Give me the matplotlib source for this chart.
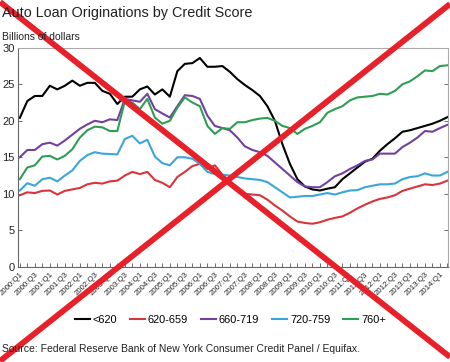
import matplotlib
matplotlib.use("Agg")
import matplotlib.pyplot as plt
from matplotlib.lines import Line2D

plt.rcParams['font.family'] = ['Liberation Sans', 'DejaVu Sans']

quarters = [f"{y}:Q{q}" for y in range(2000, 2015) for q in range(1, 5)][:58]

sub620 = [20.4, 22.7, 23.4, 23.4, 24.8, 24.3, 24.8, 25.5, 24.8, 25.2,
          25.2, 24.1, 23.7, 22.3, 23.3, 23.3, 24.3, 24.7, 23.6, 24.3,
          23.3, 26.8, 27.8, 27.9, 28.6, 27.4, 27.4, 27.5, 26.7, 25.7,
          24.9, 24.2, 23.4, 22.0, 20.0, 16.8, 14.1, 12.0, 11.0, 10.6,
          10.45, 10.7, 10.9, 12.0, 12.8, 13.6, 14.4, 14.8, 15.9, 16.8,
          17.6, 18.5, 18.7, 19.0, 19.3, 19.6, 20.0, 20.5]
s620_659 = [9.8, 10.2, 10.1, 10.4, 10.45, 9.9, 10.4, 10.6, 10.8, 11.3,
            11.5, 11.4, 11.7, 11.8, 12.5, 13.0, 12.7, 13.0, 11.9, 11.5,
            10.9, 12.3, 13.0, 13.8, 14.1, 13.4, 13.9, 12.6, 11.4, 10.5,
            10.0, 9.9, 9.8, 9.2, 8.4, 7.7, 6.9, 6.2, 6.0, 5.9,
            6.1, 6.45, 6.7, 6.9, 7.4, 8.0, 8.5, 8.95, 9.3, 9.5,
            9.8, 10.4, 10.7, 11.0, 11.3, 11.2, 11.4, 11.8]
s660_719 = [15.0, 16.0, 16.0, 16.8, 17.0, 16.6, 17.3, 18.1, 18.9, 19.5,
            20.0, 19.8, 20.2, 20.1, 23.0, 22.8, 22.6, 23.7, 21.6, 21.0,
            20.45, 22.0, 23.5, 23.4, 23.0, 20.7, 19.3, 19.0, 18.7, 17.7,
            16.5, 16.0, 15.7, 15.2, 14.3, 13.4, 12.5, 11.6, 11.0, 10.9,
            10.9, 11.6, 12.4, 12.8, 13.4, 13.9, 14.5, 14.7, 15.5, 15.5,
            15.5, 16.4, 17.0, 17.7, 18.6, 18.5, 19.0, 19.45]
s720_759 = [10.45, 11.45, 11.1, 12.0, 12.2, 11.7, 12.5, 13.2, 14.5, 15.3,
            15.7, 15.5, 15.45, 15.4, 17.5, 17.95, 16.9, 17.4, 15.1, 14.2,
            13.9, 15.0, 15.0, 14.8, 14.1, 13.0, 12.7, 12.6, 12.5, 12.3,
            12.1, 12.0, 11.9, 11.6, 10.9, 10.2, 9.5, 9.6, 9.7, 9.7,
            9.9, 10.1, 9.9, 10.2, 10.45, 10.5, 10.9, 11.1, 11.3, 11.3,
            11.4, 12.0, 12.3, 12.4, 12.8, 12.5, 12.5, 13.0]
s760p = [12.0, 13.6, 13.9, 15.1, 15.2, 14.7, 15.2, 16.1, 17.7, 18.7,
         19.2, 19.1, 18.6, 18.6, 22.7, 22.5, 21.6, 23.0, 20.45, 19.6,
         20.0, 21.8, 23.2, 22.5, 22.0, 19.3, 18.2, 19.0, 18.9, 19.8,
         19.8, 20.1, 20.3, 20.4, 20.0, 19.3, 19.0, 18.2, 18.9, 19.3,
         19.8, 21.1, 21.6, 22.0, 22.8, 23.2, 23.3, 23.4, 23.7, 23.6,
         24.1, 25.0, 25.4, 26.1, 26.9, 26.8, 27.5, 27.6]

series = [("<620", sub620, "#000000"),
          ("620-659", s620_659, "#d9343a"),
          ("660-719", s660_719, "#7340a0"),
          ("720-759", s720_759, "#3aa6da"),
          ("760+", s760p, "#2e9e55")]

fig = plt.figure(figsize=(4.5, 3.62), dpi=100)
ax = fig.add_axes([0.039, 0.263, 0.957, 0.605])

x = list(range(len(quarters)))
for name, vals, col in series:
    ax.plot(x, vals, color=col, lw=1.5, label=name)

ax.set_xlim(-0.3, 57.1)
ax.set_ylim(0, 30)
ax.set_yticks([0, 5, 10, 15, 20, 25, 30])
ax.tick_params(axis='y', direction='in', length=3, width=0.6, colors='#555555',
               labelcolor='#222222', labelsize=8, pad=2, right=True)
ax.set_xticks(x[::2])
ax.set_xticklabels(quarters[::2], rotation=45, ha='right', va='top',
                   rotation_mode='anchor', fontsize=5.7, color='#222222')
ax.set_xticks(x, minor=True)
ax.tick_params(axis='x', which='both', direction='in', length=3, width=0.6,
               colors='#555555', labelcolor='#222222', pad=3)
for side in ['left', 'bottom']:
    ax.spines[side].set_color('#666666')
    ax.spines[side].set_linewidth(0.8)
for side in ['top', 'right']:
    ax.spines[side].set_color('#aaaaaa')
    ax.spines[side].set_linewidth(0.8)

fig.text(0.005, 0.965, "Auto Loan Originations by Credit Score", fontsize=10.4,
         color='#222222', va='center', ha='left')
fig.text(0.005, 0.898, "Billions of dollars", fontsize=7.5, color='#222222',
         va='center', ha='left')
fig.text(0.005, 0.035, "Source: Federal Reserve Bank of New York Consumer Credit Panel / Equifax.",
         fontsize=7.5, color='#222222', va='center', ha='left')

fig.legend(loc='center', bbox_to_anchor=(0.512, 0.117), ncol=5, frameon=False,
           fontsize=7.9, handlelength=1.35, handletextpad=0.25, columnspacing=1.2)

# red cross overlay
fig.add_artist(Line2D([0.0, 1.0], [1 - 2 / 362, 1 - 357 / 362], transform=fig.transFigure,
                      color='#e8202a', lw=4.2, solid_capstyle='butt'))
fig.add_artist(Line2D([1.0, 0.0], [1 - 4 / 362, 1 - 361 / 362], transform=fig.transFigure,
                      color='#e8202a', lw=4.2, solid_capstyle='butt'))

fig.savefig("out.png", dpi=100)
